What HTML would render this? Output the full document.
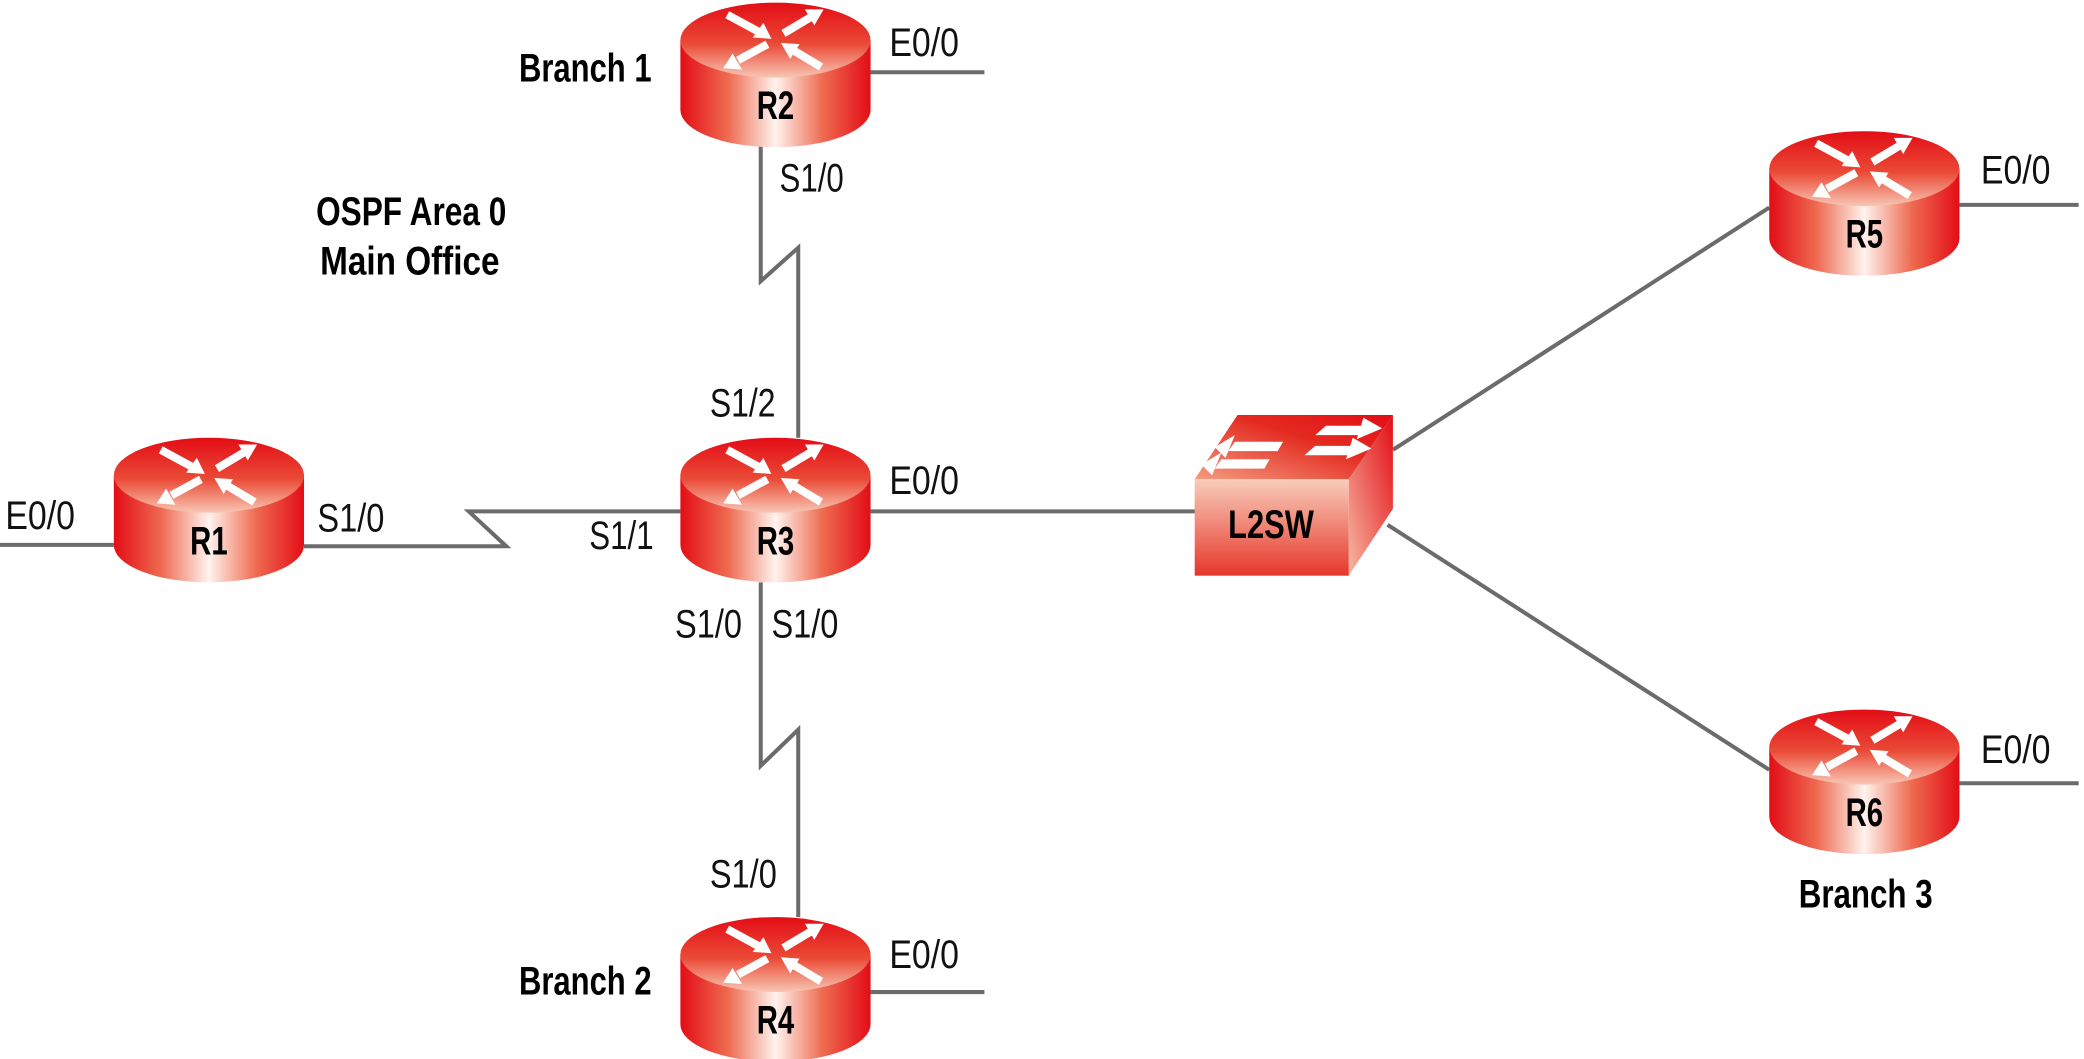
<!DOCTYPE html>
<html><head><meta charset="utf-8"><style>
html,body{margin:0;padding:0;background:#fff;}
svg{display:block}
text{font-family:"Liberation Sans",sans-serif;}
.if{font-size:30px;fill:#111;}
.b{font-size:30px;font-weight:bold;fill:#000;}
</style></head><body>
<svg width="2084" height="1059" viewBox="0 0 1556 791" preserveAspectRatio="none" xmlns="http://www.w3.org/2000/svg">
<defs>
<linearGradient id="body" x1="0" x2="1" y1="0" y2="0">
<stop offset="0" stop-color="#e30d16"/><stop offset="0.25" stop-color="#ee6a50"/><stop offset="0.5" stop-color="#fff3ee"/><stop offset="0.75" stop-color="#ee6a50"/><stop offset="1" stop-color="#e30d16"/>
</linearGradient>
<linearGradient id="top" x1="0" x2="0" y1="0" y2="1">
<stop offset="0" stop-color="#e30d16"/><stop offset="0.55" stop-color="#ea4a36"/><stop offset="1" stop-color="#f8c6b4"/>
</linearGradient>
<linearGradient id="front" x1="0" x2="0" y1="0" y2="1">
<stop offset="0" stop-color="#f9cdbb"/><stop offset="1" stop-color="#e6372a"/>
</linearGradient>
<linearGradient id="side" x1="0" x2="1" y1="1" y2="0">
<stop offset="0" stop-color="#f6b8a2"/><stop offset="1" stop-color="#e30d16"/>
</linearGradient>
<linearGradient id="stop" x1="0" x2="1" y1="1" y2="0">
<stop offset="0" stop-color="#f49c80"/><stop offset="0.6" stop-color="#e42a20"/><stop offset="1" stop-color="#e30d16"/>
</linearGradient>
<g id="rt">
<path d="M-71,0 L-71,52 A71,28 0 0 0 71,52 L71,0 Z" fill="url(#body)"/>
<ellipse cx="0" cy="0" rx="71" ry="28" fill="url(#top)"/>
<g stroke="#fff" stroke-width="6" fill="#fff">
<line x1="-36" y1="-19" x2="-12" y2="-6"/><polygon points="-3,-1 -17,-2 -9,-13" stroke="none"/>
<line x1="6" y1="-5" x2="26" y2="-17"/><polygon points="36,-23 22,-23 29,-11" stroke="none"/>
<line x1="-6" y1="3" x2="-28" y2="15"/><polygon points="-39,21 -25,22 -32,10" stroke="none"/>
<line x1="34" y1="20" x2="14" y2="8"/><polygon points="4,2 18,3 11,14" stroke="none"/>
</g>
</g>
</defs>
<g stroke="#6b6b6b" stroke-width="3" fill="none">
<line x1="650" y1="54" x2="735" y2="54"/>
<polyline points="568,105 568,210 596,185 596,327"/>
<line x1="0" y1="407" x2="85" y2="407"/>
<polyline points="227,408 378,408 350,382 508,382"/>
<line x1="650" y1="382" x2="895" y2="382"/>
<polyline points="568,435 568,572 596,545 596,685"/>
<line x1="650" y1="741" x2="735" y2="741"/>
<line x1="1040" y1="336" x2="1321" y2="155"/>
<line x1="1036" y1="392" x2="1321" y2="575"/>
<line x1="1463" y1="153" x2="1552" y2="153"/>
<line x1="1463" y1="585" x2="1552" y2="585"/>
</g>
<use href="#rt" x="579" y="30"/>
<use href="#rt" x="579" y="355"/>
<use href="#rt" x="156" y="355"/>
<use href="#rt" x="579" y="713"/>
<use href="#rt" x="1392" y="126"/>
<use href="#rt" x="1392" y="558"/>
<!-- switch -->
<polygon points="892,358 924,310 1040,310 1007,358" fill="url(#stop)"/>
<polygon points="1007,358 1040,310 1040,380 1007,430" fill="url(#side)"/>
<rect x="892" y="358" width="115" height="72" fill="url(#front)"/>
<g fill="#fff">
<polygon points="990,318 1022,318 1016,325 982,325"/><polygon points="1018,312 1032,320 1013,328"/>
<polygon points="982,333 1014,333 1008,340 974,340"/><polygon points="1010,327 1024,335 1005,343"/>
<polygon points="958,330 922,330 917,337 954,337"/><polygon points="922,325 907,334 915,342"/>
<polygon points="948,343 912,343 907,350 944,350"/><polygon points="912,338 897,347 905,355"/>
</g>
<g class="b" text-anchor="middle" lengthAdjust="spacingAndGlyphs">
<text x="579" y="89" textLength="28" lengthAdjust="spacingAndGlyphs">R2</text>
<text x="579" y="414" textLength="28" lengthAdjust="spacingAndGlyphs">R3</text>
<text x="156" y="414" textLength="28" lengthAdjust="spacingAndGlyphs">R1</text>
<text x="579" y="772" textLength="28" lengthAdjust="spacingAndGlyphs">R4</text>
<text x="1392" y="185" textLength="28" lengthAdjust="spacingAndGlyphs">R5</text>
<text x="1392" y="617" textLength="28" lengthAdjust="spacingAndGlyphs">R6</text>
<text x="949" y="402" textLength="64" lengthAdjust="spacingAndGlyphs">L2SW</text>
<text x="437" y="61" textLength="99" lengthAdjust="spacingAndGlyphs">Branch 1</text>
<text x="307" y="168" textLength="142" lengthAdjust="spacingAndGlyphs">OSPF Area 0</text>
<text x="306" y="205" textLength="134" lengthAdjust="spacingAndGlyphs">Main Office</text>
<text x="437" y="743" textLength="99" lengthAdjust="spacingAndGlyphs">Branch 2</text>
<text x="1393" y="678" textLength="100" lengthAdjust="spacingAndGlyphs">Branch 3</text>
</g>
<g class="if">
<text x="664" y="42" textLength="52" lengthAdjust="spacingAndGlyphs">E0/0</text>
<text x="582" y="143" textLength="48" lengthAdjust="spacingAndGlyphs">S1/0</text>
<text x="530" y="311" textLength="49" lengthAdjust="spacingAndGlyphs">S1/2</text>
<text x="4" y="395" textLength="52" lengthAdjust="spacingAndGlyphs">E0/0</text>
<text x="237" y="397" textLength="50" lengthAdjust="spacingAndGlyphs">S1/0</text>
<text x="440" y="410" textLength="48" lengthAdjust="spacingAndGlyphs">S1/1</text>
<text x="664" y="369" textLength="52" lengthAdjust="spacingAndGlyphs">E0/0</text>
<text x="504" y="476" textLength="50" lengthAdjust="spacingAndGlyphs">S1/0</text>
<text x="576" y="476" textLength="50" lengthAdjust="spacingAndGlyphs">S1/0</text>
<text x="530" y="663" textLength="50" lengthAdjust="spacingAndGlyphs">S1/0</text>
<text x="664" y="723" textLength="52" lengthAdjust="spacingAndGlyphs">E0/0</text>
<text x="1479" y="137" textLength="52" lengthAdjust="spacingAndGlyphs">E0/0</text>
<text x="1479" y="570" textLength="52" lengthAdjust="spacingAndGlyphs">E0/0</text>
</g>
</svg>
</body></html>
